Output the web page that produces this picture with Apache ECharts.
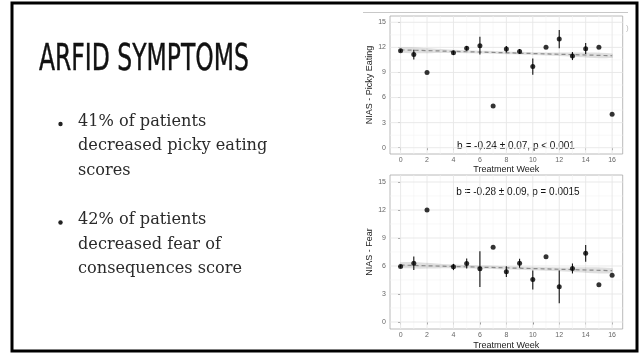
<!DOCTYPE html>
<html>
<head>
<meta charset="utf-8">
<script src="https://cdn.jsdelivr.net/npm/echarts@6/dist/echarts.min.js"></script>
<style>
  html, body { margin: 0; padding: 0; background: #fff; }
  #chart { width: 640px; height: 356px; }
</style>
</head>
<body>
<div id="chart"></div>
<script>
// Treatment weeks with a recorded mean score
const weeks = [0, 1, 2, 4, 5, 6, 7, 8, 9, 10, 11, 12, 13, 14, 15, 16];

// NIAS picky eating: weekly mean with error-bar limits (null = single patient)
const pickyMean = [11.6, 11.15, 9.0, 11.35, 11.88, 12.2, 5.0, 11.8, 11.52, 9.72, 12.0, 13.0, 10.96, 11.84, 12.0, 4.0];
const pickyLow  = [11.45, 10.56, null, 11.1, 11.6, 11.16, null, 11.4, 11.25, 8.72, null, 11.88, 10.48, 11.2, null, null];
const pickyHigh = [11.75, 11.7, null, 11.6, 12.16, 13.28, null, 12.16, 11.8, 10.68, null, 14.08, 11.44, 12.52, null, null];

// NIAS fear: weekly mean with error-bar limits
const fearMean = [5.95, 6.3, 12.0, 5.91, 6.27, 5.7, 8.0, 5.38, 6.3, 4.56, 7.0, 3.78, 5.74, 7.37, 4.0, 5.0];
const fearLow  = [5.8, 5.56, null, 5.56, 5.74, 3.74, null, 4.81, 5.8, 3.49, null, 2.0, 5.2, 6.45, null, null];
const fearHigh = [6.1, 7.02, null, 6.23, 6.8, 7.59, null, 5.98, 6.77, 5.52, null, 5.52, 6.27, 8.26, null, null];

// Fitted trend lines and their confidence bands
const fitWeeks = [0, 16];
const pickyFit = [11.7, 11.0];
const fearFit = [6.1, 5.5];
const bandWeeks = [0, 4, 8, 12, 16];
const pickyBandLow  = [11.4, 11.32, 11.18, 10.98, 10.72];
const pickyBandHigh = [12.0, 11.72, 11.52, 11.38, 11.28];
const fearBandLow   = [5.8, 5.75, 5.63, 5.45, 5.22];
const fearBandHigh  = [6.4, 6.15, 5.97, 5.85, 5.78];

// Axis ticks and grid lines
const xTicks = [0, 2, 4, 6, 8, 10, 12, 14, 16];
const xMinor = [1, 3, 5, 7, 9, 11, 13, 15];
const yTicks = [0, 3, 6, 9, 12, 15];
const yMinor = [1.5, 4.5, 7.5, 10.5, 13.5];

const pickyStat = 'b = -0.24 \u00b1 0.07, p < 0.001';
const fearStat = 'b = -0.28 \u00b1 0.09, p = 0.0015';

const slideTitle = 'ARFID SYMPTOMS';
const bullets = [
  ['41% of patients', 'decreased picky eating', 'scores'],
  ['42% of patients', 'decreased fear of', 'consequences score']
];

const chart = echarts.init(document.getElementById('chart'), null, { renderer: 'canvas' });

const axisFont = 'Liberation Sans, Arial, sans-serif';

function xAxisDef(idx, gap) {
  return {
    type: 'value', gridIndex: idx, min: -0.8, max: 16.8,
    name: 'Treatment Week', nameLocation: 'middle', nameGap: gap,
    nameTextStyle: { fontFamily: axisFont, fontSize: 9, color: '#222' },
    axisLine: { show: false },
    axisTick: { show: true, customValues: xTicks, length: 2.5, lineStyle: { color: '#555', width: 0.8 } },
    axisLabel: { customValues: xTicks, fontFamily: axisFont, fontSize: 7, color: '#666', margin: 3 },
    splitLine: { show: false }
  };
}
function yAxisDef(idx, title) {
  return {
    type: 'value', gridIndex: idx, min: -0.75, max: 15.75,
    name: title, nameLocation: 'middle', nameGap: 16, nameRotate: 90,
    nameTextStyle: { fontFamily: axisFont, fontSize: 9, color: '#222' },
    axisLine: { show: false },
    axisTick: { show: true, customValues: yTicks, length: 2.5, lineStyle: { color: '#555', width: 0.8 } },
    axisLabel: { customValues: yTicks, fontFamily: axisFont, fontSize: 7, color: '#666', margin: 4 },
    splitLine: { show: false }
  };
}

// Vertical or horizontal grid lines spanning the whole panel
function gridSeries(idx, values, vertical, color, width) {
  return {
    type: 'custom', xAxisIndex: idx, yAxisIndex: idx, silent: true, z: 1,
    data: values.map(v => [v]),
    encode: vertical ? { x: 0 } : { y: 0 },
    renderItem: function (params, api) {
      const cs = params.coordSys;
      const v = api.value(0);
      if (vertical) {
        const x = api.coord([v, 0])[0];
        return { type: 'line', shape: { x1: x, y1: cs.y, x2: x, y2: cs.y + cs.height },
                 style: { stroke: color, lineWidth: width } };
      }
      const y = api.coord([0, v])[1];
      return { type: 'line', shape: { x1: cs.x, y1: y, x2: cs.x + cs.width, y2: y },
               style: { stroke: color, lineWidth: width } };
    }
  };
}

function bandSeries(idx, xs, lows, highs) {
  return {
    type: 'custom', xAxisIndex: idx, yAxisIndex: idx, silent: true, z: 2,
    data: [[xs[0], lows[0]]],
    renderItem: function (params, api) {
      const pts = [];
      for (let i = 0; i < xs.length; i++) pts.push(api.coord([xs[i], highs[i]]));
      for (let i = xs.length - 1; i >= 0; i--) pts.push(api.coord([xs[i], lows[i]]));
      return { type: 'polygon', shape: { points: pts, smooth: 0.3 },
               style: { fill: 'rgba(150,150,150,0.3)' } };
    }
  };
}

function fitSeries(idx, xs, ys) {
  return {
    type: 'line', xAxisIndex: idx, yAxisIndex: idx, z: 3, silent: true,
    data: xs.map((x, i) => [x, ys[i]]), symbol: 'none',
    lineStyle: { color: '#8a8a8a', width: 1.2, type: [4, 3] }
  };
}

function errorSeries(idx, lows, highs) {
  const data = [];
  weeks.forEach((w, i) => { if (lows[i] !== null) data.push([w, lows[i], highs[i]]); });
  return {
    type: 'custom', xAxisIndex: idx, yAxisIndex: idx, silent: true, z: 4,
    data: data, encode: { x: 0, y: [1, 2] },
    renderItem: function (params, api) {
      const a = api.coord([api.value(0), api.value(1)]);
      const b = api.coord([api.value(0), api.value(2)]);
      return { type: 'line', shape: { x1: a[0], y1: a[1], x2: b[0], y2: b[1] },
               style: { stroke: '#111', lineWidth: 1.1 } };
    }
  };
}

function pointSeries(idx, means) {
  return {
    type: 'scatter', xAxisIndex: idx, yAxisIndex: idx, z: 5, silent: true,
    data: weeks.map((w, i) => [w, means[i]]),
    symbol: 'circle', symbolSize: 5, itemStyle: { color: '#000' }
  };
}

// Slide text, frame and decoration
const graphics = [
  { type: 'rect', shape: { x: 12, y: 3, width: 625, height: 348 },
    style: { fill: 'none', stroke: '#000', lineWidth: 3 }, z: 100 },
  { type: 'line', shape: { x1: 363, y1: 12.5, x2: 628, y2: 12.5 },
    style: { stroke: '#c8c8c8', lineWidth: 1 } },
  { type: 'text', x: 626, y: 24, style: { text: ')', font: '8px Liberation Sans', fill: '#bbb' } },
  { type: 'text', x: 39, y: 60, scaleX: 0.705, originX: 0,
    style: { text: slideTitle, font: '37px "Liberation Sans Narrow", "DejaVu Sans Condensed", sans-serif',
             fill: '#111', textVerticalAlign: 'middle', stroke: '#111', lineWidth: 0.4 } },
  { type: 'text', x: 516, y: 146, style: { text: pickyStat, font: '10px Liberation Sans', fill: '#111',
             textAlign: 'center', textVerticalAlign: 'middle' } },
  { type: 'text', x: 518, y: 192.5, style: { text: fearStat, font: '10px Liberation Sans', fill: '#111',
             textAlign: 'center', textVerticalAlign: 'middle' } }
];
const lineStarts = [121.5, 220];
bullets.forEach((lines, b) => {
  graphics.push({ type: 'circle', shape: { cx: 60.5, cy: lineStarts[b] + 2.5, r: 2.2 }, style: { fill: '#222' } });
  lines.forEach((t, j) => {
    graphics.push({ type: 'text', x: 78, y: lineStarts[b] + j * 24.5, scaleX: 0.95, originX: 0,
      style: { text: t, font: '17px "DejaVu Serif", serif', fill: '#2a2a2a', textVerticalAlign: 'middle' } });
  });
});

chart.setOption({
  animation: false,
  grid: [
    { left: 390, top: 16, width: 232.7, height: 138, show: true, backgroundColor: '#fff',
      borderColor: '#a8a8a8', borderWidth: 0.8 },
    { left: 390, top: 175, width: 232.7, height: 154, show: true, backgroundColor: '#fff',
      borderColor: '#a8a8a8', borderWidth: 0.8 }
  ],
  xAxis: [xAxisDef(0, 11), xAxisDef(1, 12.5)],
  yAxis: [yAxisDef(0, 'NIAS - Picky Eating'), yAxisDef(1, 'NIAS - Fear')],
  series: [
    gridSeries(0, xMinor, true, '#f3f3f3', 0.6),
    gridSeries(0, yMinor, false, '#f3f3f3', 0.6),
    gridSeries(0, xTicks, true, '#e6e6e6', 0.9),
    gridSeries(0, yTicks, false, '#e6e6e6', 0.9),
    gridSeries(1, xMinor, true, '#f3f3f3', 0.6),
    gridSeries(1, yMinor, false, '#f3f3f3', 0.6),
    gridSeries(1, xTicks, true, '#e6e6e6', 0.9),
    gridSeries(1, yTicks, false, '#e6e6e6', 0.9),
    bandSeries(0, bandWeeks, pickyBandLow, pickyBandHigh),
    bandSeries(1, bandWeeks, fearBandLow, fearBandHigh),
    fitSeries(0, fitWeeks, pickyFit),
    fitSeries(1, fitWeeks, fearFit),
    errorSeries(0, pickyLow, pickyHigh),
    errorSeries(1, fearLow, fearHigh),
    pointSeries(0, pickyMean),
    pointSeries(1, fearMean)
  ],
  graphic: graphics
});
</script>
</body>
</html>
